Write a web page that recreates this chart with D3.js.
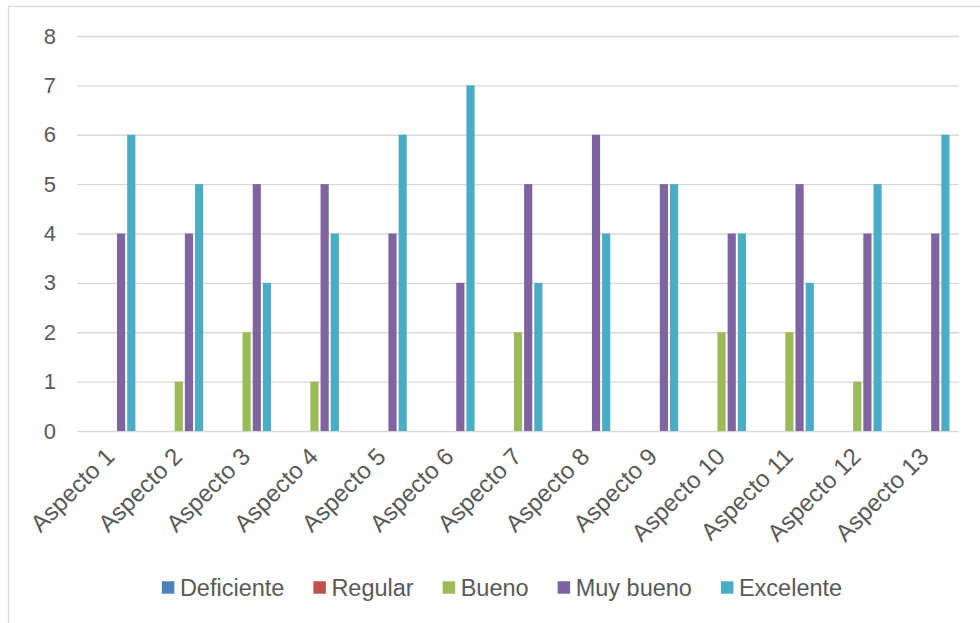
<!DOCTYPE html>
<html>
<head>
<meta charset="utf-8">
<script src="https://cdn.jsdelivr.net/npm/d3@7/dist/d3.min.js"></script>
<style>
  html, body { margin: 0; padding: 0; background: #fff; }
  svg { display: block; }
  text { font-family: "Liberation Sans", Arial, sans-serif; fill: #595959; }
</style>
</head>
<body>
<svg id="chart" width="980" height="623"></svg>
<script>
// Survey ratings per aspect
const categories = ["Aspecto 1","Aspecto 2","Aspecto 3","Aspecto 4","Aspecto 5","Aspecto 6","Aspecto 7",
                    "Aspecto 8","Aspecto 9","Aspecto 10","Aspecto 11","Aspecto 12","Aspecto 13"];
const seriesNames = ["Deficiente","Regular","Bueno","Muy bueno","Excelente"];
const seriesColors = ["#4F81BD","#C0504D","#9BBB59","#8064A2","#4BACC6"];
const deficiente = [0,0,0,0,0,0,0,0,0,0,0,0,0];
const regular    = [0,0,0,0,0,0,0,0,0,0,0,0,0];
const bueno      = [0,1,2,1,0,0,2,0,0,2,2,1,0];
const muyBueno   = [4,4,5,5,4,3,5,6,5,4,5,4,4];
const excelente  = [6,5,3,4,6,7,3,4,5,4,3,5,6];
const yTicks = [0,1,2,3,4,5,6,7,8];

const seriesValues = [deficiente, regular, bueno, muyBueno, excelente];

const svg = d3.select("#chart");
const plot = { left: 77, right: 959, top: 36, bottom: 431 };

// outer chart frame (extends past the right and bottom edges)
svg.append("rect")
  .attr("x", 8.5).attr("y", 6.5)
  .attr("width", 1000).attr("height", 1000)
  .attr("fill", "none").attr("stroke", "#d9d9d9").attr("stroke-width", 1.3);

const y = d3.scaleLinear().domain([0, 8]).range([plot.bottom, plot.top]);
const x0 = d3.scaleBand().domain(categories).range([plot.left, plot.right])
  .paddingInner(0.25).paddingOuter(0.125);
const x1 = d3.scaleBand().domain(seriesNames).range([0, x0.bandwidth()]);

// gridlines + y labels
const yAxis = d3.axisLeft(y).tickValues(yTicks).tickSize(-(plot.right - plot.left)).tickPadding(21);
const gy = svg.append("g").attr("transform", `translate(${plot.left},0)`).call(yAxis);
gy.select(".domain").remove();
gy.selectAll(".tick line").attr("stroke", "#d9d9d9").attr("stroke-width", 1.4);
gy.selectAll(".tick text").attr("font-size", 22).attr("fill", "#595959")
  .style("font-family", '"Liberation Sans", Arial, sans-serif');

// bars
const barGap = 2;
seriesNames.forEach((name, si) => {
  svg.append("g").selectAll("rect")
    .data(categories.map((c, i) => ({ c, v: seriesValues[si][i] })))
    .join("rect")
    .attr("x", d => x0(d.c) + x1(name) + barGap / 2)
    .attr("width", x1.bandwidth() - barGap)
    .attr("y", d => y(d.v))
    .attr("height", d => y(0) - y(d.v))
    .attr("fill", seriesColors[si]);
});

// category labels, rotated
const xAxis = d3.axisBottom(x0).tickSize(0).tickPadding(0);
const gx = svg.append("g").attr("transform", `translate(0,${plot.bottom})`).call(xAxis);
gx.select(".domain").remove();
gx.selectAll(".tick text")
  .attr("font-size", 24)
  .attr("fill", "#595959")
  .style("font-family", '"Liberation Sans", Arial, sans-serif')
  .attr("text-anchor", "end")
  .attr("dy", 0)
  .attr("y", 0)
  .attr("transform", "translate(5,27) rotate(-45)");

// legend
const legend = svg.append("g");
const sq = 12.5, gapText = 5.5, gapItem = 29;
let cursor = 0;
seriesNames.forEach((name, i) => {
  const g = legend.append("g");
  g.append("rect").attr("x", 0).attr("y", -sq / 2).attr("width", sq).attr("height", sq)
    .attr("fill", seriesColors[i]);
  const t = g.append("text").attr("x", sq + gapText).attr("y", 0).attr("dy", "0.35em")
    .attr("font-size", 23.5).text(name);
  const w = sq + gapText + t.node().getComputedTextLength();
  g.attr("transform", `translate(${cursor},0)`);
  cursor += w + gapItem;
});
const totalW = cursor - gapItem;
legend.attr("transform", `translate(${502 - totalW / 2},587.5)`);
</script>
</body>
</html>
